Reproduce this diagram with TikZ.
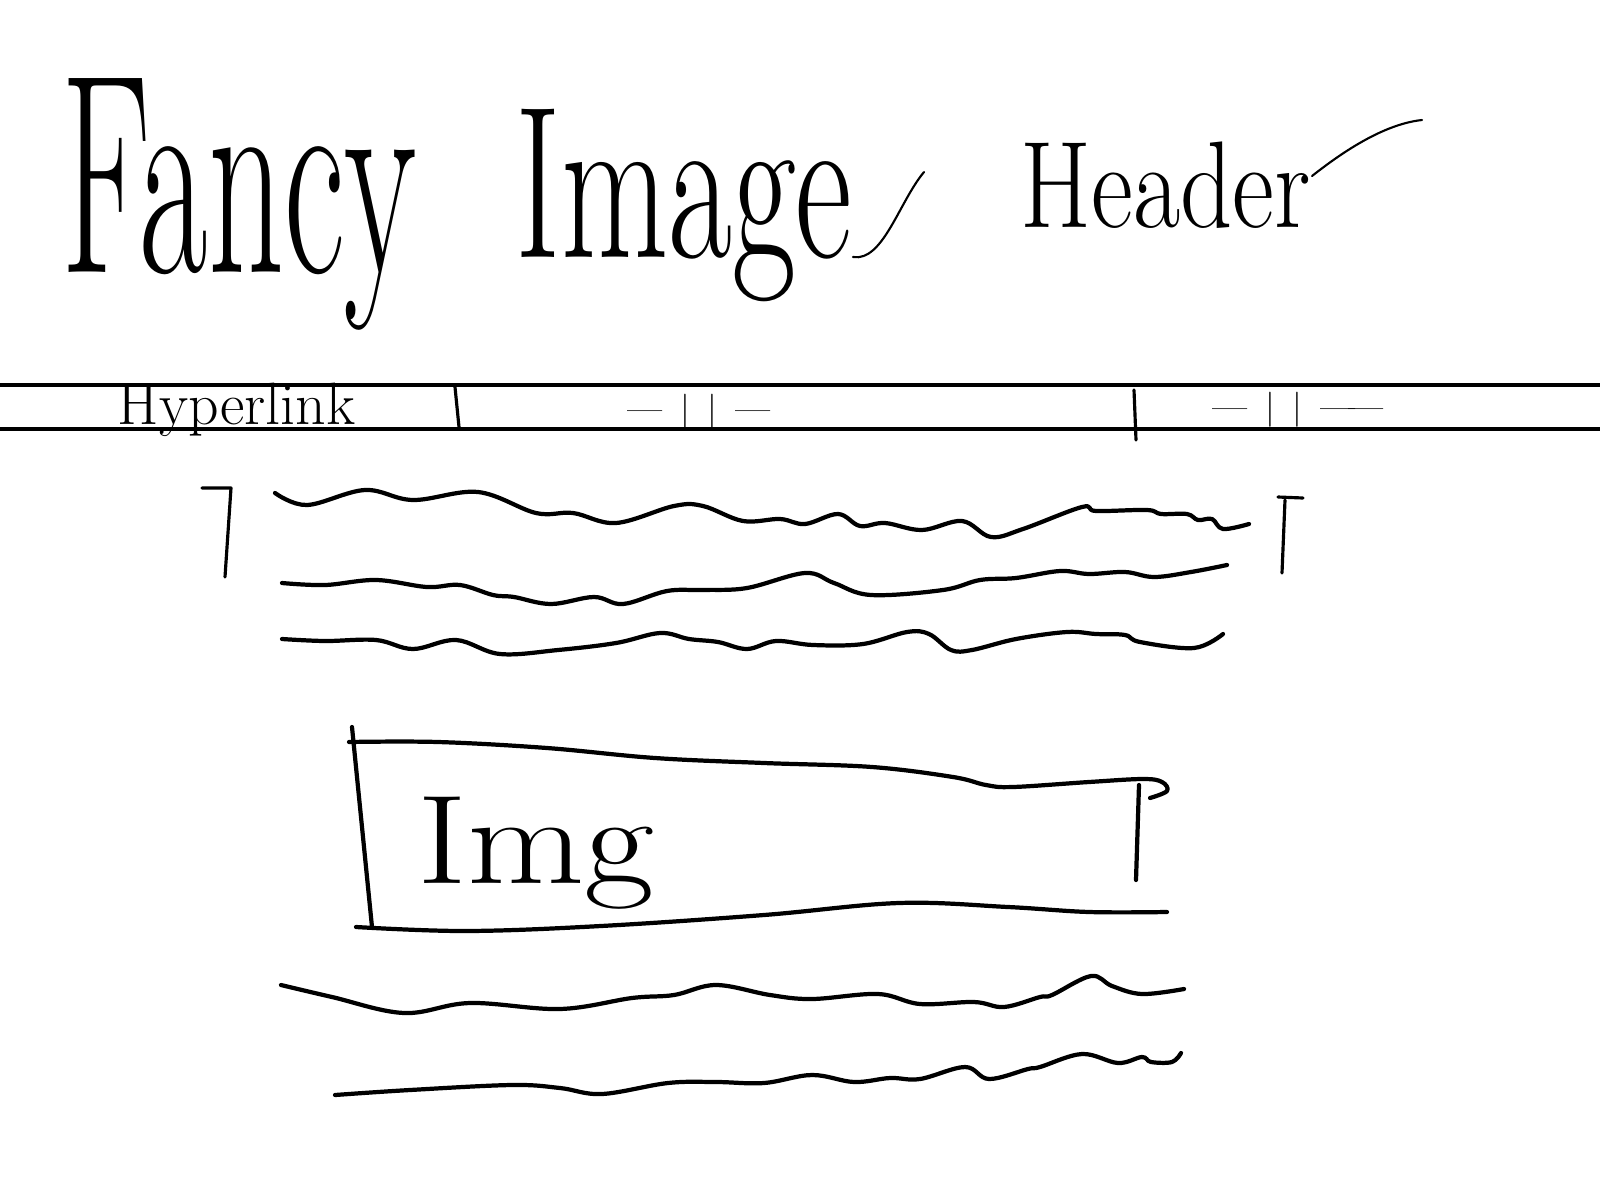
\documentclass[tikz,border=0pt]{standalone}
\usepackage{graphicx}
\usepackage{tikz}
\usetikzlibrary{positioning}

\begin{document}
\begin{tikzpicture}[
    x=0.01cm, y=-0.01cm,
    pen/.style    = {draw=black, line width=0.6pt, line cap=round},
    stroke/.style = {draw=black, line width=0.9pt, line cap=round, line join=round},
    ink/.style    = {draw=black, line width=1.2pt, line cap=round, line join=round},
    bar/.style    = {draw=black, line width=1.3pt},
    lbl/.style    = {inner sep=0pt, text=black},
    wave/.style   = {smooth, tension=0.6},
]
\useasboundingbox (0,0) rectangle (1600,1200);

%======== TITLE ========
\node[lbl, anchor=base west] (fancy) at (61,272)
  {\fontsize{45}{45}\selectfont\scalebox{0.94}[1.8]{Fancy}};
\node[lbl, anchor=base west] (image) at (515,257)
  {\fontsize{42}{42}\selectfont\scalebox{0.94}[1.47]{Image}};
\node[lbl, anchor=base west] (header) at (1020,227)
  {\fontsize{27}{27}\selectfont\scalebox{1.08}[1.3]{Header}};
% flourishes
\draw[pen] (image.base east) .. controls +(30,5) and +(-25,30) .. (924,172);
\draw[pen] (1312,176) .. controls (1345,150) and (1385,124) .. (1422,120);

%======== NAV BAR ========
\draw[bar] (0,385) -- (1600,385);
\draw[bar] (0,429) -- (1600,429);
\node[lbl, anchor=base west, font=\fontsize{17}{17}\selectfont] (link) at (117,424) {Hyperlink};
\draw[stroke] (455,387) -- (459,427);
\node[lbl, font=\fontsize{10}{10}\selectfont] (ditto1) at (699,412)
  {\textemdash\enspace|\enspace|\enspace\textemdash};
\draw[stroke] (1134,390) -- (1136,440);
\node[lbl, font=\fontsize{10}{10}\selectfont] (ditto2) at (1298,410)
  {\textemdash\enspace|\enspace|\enspace\textemdash\hspace{-0.2em}\textemdash};

%======== TEXT BLOCK ========
\draw[stroke] (202,488) -- (231,488) -- (225,577);
\draw[ink] plot[wave] coordinates {(275,493) (307,505) (365,490) (413,500) (478,492)
  (536,513) (573,513) (616,523) (674,506) (703,506) (743,521) (780,519) (805,524)
  (838,514) (860,526) (885,523) (922,530) (962,521) (991,537) (1023,529) (1082,507)
  (1096,511) (1147,510) (1161,514) (1187,514) (1198,520) (1212,519) (1223,529) (1249,524)};
\draw[ink] plot[wave] coordinates {(282,583) (325,585) (376,580) (427,587) (460,585)
  (493,595) (514,597) (551,604) (594,597) (623,604) (667,591) (703,590) (747,588)
  (805,573) (834,583) (871,595) (943,590) (980,580) (1016,578) (1060,571) (1089,574)
  (1125,572) (1154,577) (1191,572) (1227,565)};
\draw[ink] plot[wave] coordinates {(282,639) (325,641) (376,640) (413,649) (456,640)
  (500,654) (558,650) (616,643) (660,633) (689,639) (718,642) (747,649) (776,641)
  (813,645) (863,644) (907,632) (929,634) (951,650) (972,650) (1016,639) (1067,632)
  (1096,634) (1125,635) (1140,642) (1194,648) (1223,634)};
\draw[stroke] (1278,497) -- (1303,498);
\draw[stroke] (1285,500) -- (1282,573);

%======== IMAGE BOX ========
\draw[ink] plot[wave] coordinates {(349,742) (438,742) (547,748) (655,758) (764,763)
  (872,767) (953,777) (986,785) (1013,787) (1089,782) (1143,779) (1162,782)
  (1167,791) (1150,798)};
\draw[ink] (352,727) -- (372,927);
\draw[ink] (1139,785) -- (1136,880);
\draw[ink] plot[wave] coordinates {(356,927) (466,931) (601,926) (764,915) (899,903)
  (1008,907) (1089,912) (1167,912)};
\node[lbl, anchor=base west, font=\fontsize{36}{36}\selectfont] (img) at (417,883)
  {\scalebox{1.2}[1]{Img}};

%======== TEXT BELOW ========
\draw[ink] plot[wave] coordinates {(281,985) (332,997) (404,1013) (470,1003) (560,1009)
  (632,998) (674,995) (716,985) (770,995) (812,999) (878,994) (920,1004) (974,1002)
  (1004,1007) (1040,997) (1052,995) (1091,976) (1112,986) (1142,994) (1184,989)};
\draw[ink] plot[wave] coordinates {(335,1095) (410,1090) (512,1085) (560,1088) (602,1094)
  (668,1083) (716,1082) (764,1083) (812,1075) (854,1082) (890,1078) (920,1079)
  (965,1067) (989,1079) (1028,1069) (1040,1067) (1082,1054) (1118,1063) (1142,1057)
  (1151,1062) (1172,1062) (1181,1053)};

\end{tikzpicture}
\end{document}
